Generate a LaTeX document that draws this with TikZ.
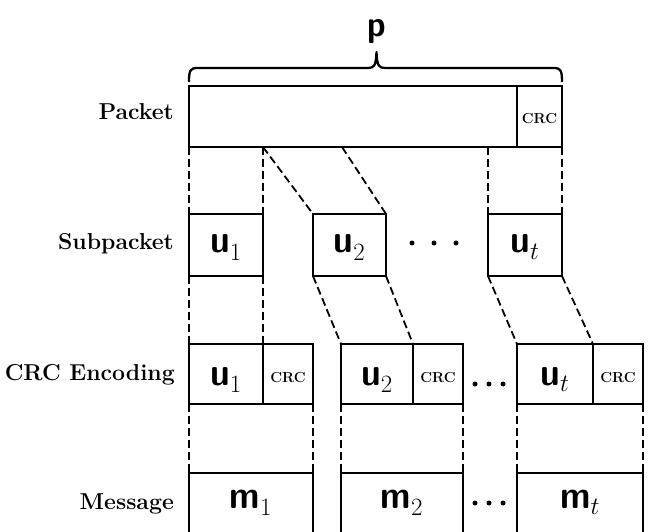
\documentclass[tikz,border=0pt]{standalone}
\usepackage{graphicx}
\DeclareMathSizes{35}{35}{26}{19}
\newcommand{\vsym}[2]{\scalebox{1}[1.12]{\sffamily\bfseries #1}$_{#2}$}
\begin{document}
\begin{tikzpicture}[x=1pt,y=-1pt,
  box/.style={draw, line width=2.3pt, inner sep=0pt, outer sep=0pt, anchor=north west},
  conn/.style={line width=1.8pt, dash pattern=on 8pt off 4pt},
  lbl/.style={anchor=base east, font=\fontsize{23}{27}\selectfont\bfseries, inner sep=0pt},
  sym/.style={font=\fontsize{35}{38}\selectfont},
  crc/.style={font=\fontsize{14.5}{16}\selectfont\bfseries},
  dotn/.style={circle, fill, inner sep=0pt, minimum size=5pt},
  rowA/.style={text height=38pt, text depth=23pt},
  rowB/.style={text height=39pt, text depth=23pt},
  rowC/.style={text height=41pt, text depth=19pt},
  rowCc/.style={text height=38pt, text depth=22pt},
  rowD/.style={text height=35pt, text depth=27pt},
]
\useasboundingbox (0,0) rectangle (657,532);
\clip (0,0) rectangle (657,532);

% labels
\node[lbl] (lpkt) at (174,120) {Packet};
\node[lbl] (lsub) at (174,250) {Subpacket};
\node[lbl] (lcrc) at (175,380) {CRC Encoding};
\node[lbl] (lmsg) at (174,509) {Message};

% brace and p
\draw[line width=2.3pt, line join=round]
  (189,82) .. controls (189,71) and (190,68) .. (197,68) -- (368,68)
  .. controls (374,68) and (376,66) .. (376.5,52)
  .. controls (377,66) and (379,68) .. (385,68) -- (554,68)
  .. controls (561,68) and (562,71) .. (562,82);
\node[anchor=base, inner sep=0pt, font=\fontsize{33}{36}\selectfont] (plbl) at (377,37) {\scalebox{1}[1.1]{\sffamily\bfseries p}};

% row 1: packet
\node[box, rowA, minimum width=328] (pkt) at (189,86) {};
\node[box, rowA, crc, minimum width=45] (pcrc) at (517,86) {CRC};

% row 2: subpackets
\node[box, rowB, sym, minimum width=74] (u1) at (189,214) {\vsym{u}{1}};
\node[box, rowB, sym, minimum width=73] (u2) at (313,214) {\vsym{u}{2}};
\node[box, rowB, sym, minimum width=74] (ut) at (488,214) {\vsym{u}{t}};

% row 3: CRC encoding
\node[box, rowC, sym, minimum width=74] (c1u) at (189,344) {\vsym{u}{1}};
\node[box, rowCc, crc, minimum width=50] (c1c) at (263,344) {CRC};
\node[box, rowC, sym, minimum width=72] (c2u) at (341,344) {\vsym{u}{2}};
\node[box, rowCc, crc, minimum width=50] (c2c) at (413,344) {CRC};
\node[box, rowC, sym, minimum width=76] (ctu) at (517,344) {\vsym{u}{t}};
\node[box, rowCc, crc, minimum width=50] (ctc) at (593,344) {CRC};

% row 4: messages
\node[box, rowD, sym, minimum width=124] (m1) at (189,473) {\vsym{m}{1}};
\node[box, rowD, sym, minimum width=122] (m2) at (341,473) {\vsym{m}{2}};
\node[box, rowD, sym, minimum width=126] (mt) at (517,473) {\vsym{m}{t}};

% dots
\node[dotn] (da1) at (412,243) {};
\node[dotn] (da2) at (434,243) {};
\node[dotn] (da3) at (456,243) {};
\node[dotn] (db1) at (475,384) {};
\node[dotn] (db2) at (489,384) {};
\node[dotn] (db3) at (503,384) {};
\node[dotn] (dc1) at (475,503) {};
\node[dotn] (dc2) at (489,503) {};
\node[dotn] (dc3) at (503,503) {};

% connectors packet -> subpackets
\coordinate (s2) at (342,147);
\draw[conn] (pkt.south west) -- (u1.north west);
\draw[conn] (u1.north east |- pkt.south) -- (u1.north east);
\draw[conn] (u1.north east |- pkt.south) -- (u2.north west);
\draw[conn] (s2) -- (u2.north east);
\draw[conn] (ut.north west |- pkt.south) -- (ut.north west);
\draw[conn] (pcrc.south east) -- (ut.north east);

% subpackets -> CRC encoding
\draw[conn] (u1.south west) -- (c1u.north west);
\draw[conn] (u1.south east) -- (c1u.north east);
\draw[conn] (u2.south west) -- (c2u.north west);
\draw[conn] (u2.south east) -- (c2u.north east);
\draw[conn] (ut.south west) -- (ctu.north west);
\draw[conn] (ut.south east) -- (ctu.north east);

% CRC encoding -> messages
\draw[conn] (c1u.south west) -- (m1.north west);
\draw[conn] (c1c.south east) -- (m1.north east);
\draw[conn] (c2u.south west) -- (m2.north west);
\draw[conn] (c2c.south east) -- (m2.north east);
\draw[conn] (ctu.south west) -- (mt.north west);
\draw[conn] (ctc.south east) -- (mt.north east);
\end{tikzpicture}
\end{document}
